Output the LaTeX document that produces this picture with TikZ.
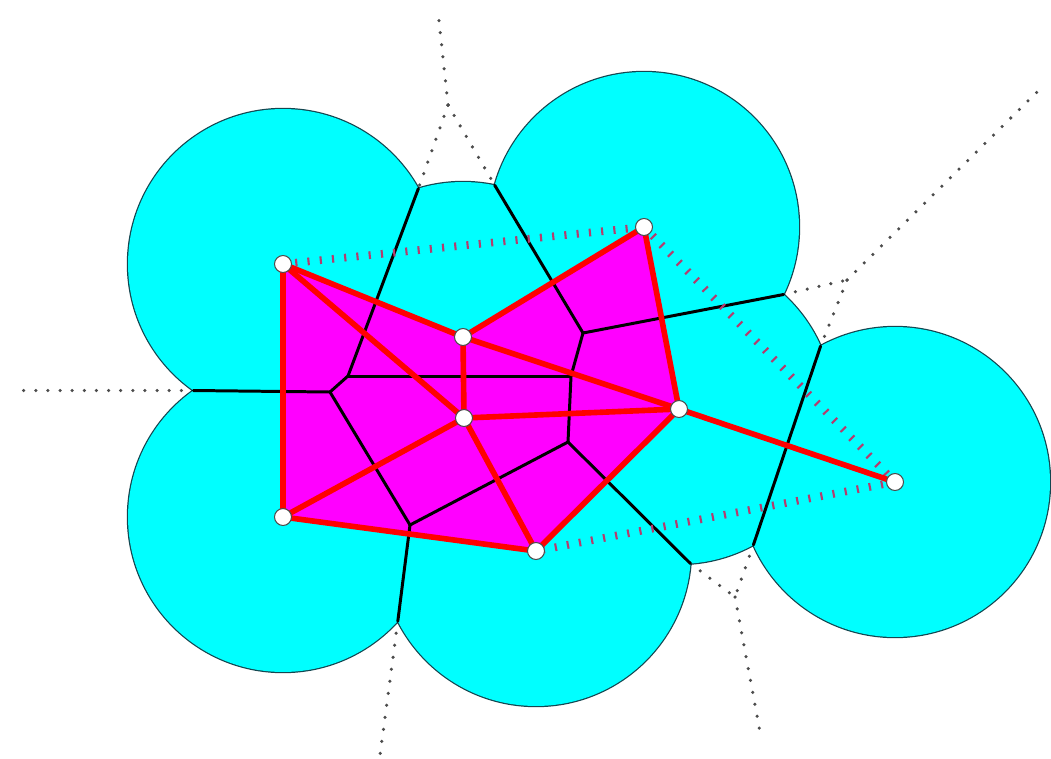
\documentclass[tikz,border=0pt]{standalone}
\definecolor{cyanfill}{RGB}{0,255,255}
\definecolor{magfill}{RGB}{255,0,255}
\definecolor{delcol}{RGB}{180,60,110}
\definecolor{rimcol}{RGB}{20,70,80}
\begin{document}
\begin{tikzpicture}[x=0.02cm,y=-0.02cm,
  voro/.style={line width=1.7pt, black, line cap=round},
  voroout/.style={line width=2pt, black!70, line cap=round, dash pattern=on 0pt off 6.9pt},
  alphaedge/.style={line width=3.2pt, red, line cap=round},
  delout/.style={line width=4.4pt, delcol, dash pattern=on 1.2pt off 5.8pt},
  site/.style={circle, draw=black!70, line width=0.6pt, fill=white, inner sep=0pt, minimum size=0.34cm},
  tri/.style={fill=magfill}]
\useasboundingbox (0,0) rectangle (1051,758);
% sites
\coordinate (A) at (283,264);
\coordinate (B) at (644,227);
\coordinate (C) at (463,337);
\coordinate (D) at (464,418);
\coordinate (E) at (679,409);
\coordinate (F) at (895,482);
\coordinate (G) at (283,517);
\coordinate (H) at (536,551);
% Voronoi vertices
\coordinate (vABC) at (448,105);
\coordinate (vACD) at (348,376);
\coordinate (vADG) at (330,392);
\coordinate (vGDH) at (410,525);
\coordinate (vDHE) at (568,442);
\coordinate (vDCE) at (571,376);
\coordinate (vCBE) at (583,333);
\coordinate (vBEF) at (847,280);
\coordinate (vEHF) at (735,597);
% cusps on the union boundary
\coordinate (cAC) at (418.4,188.5);
\coordinate (cBC) at (494.7,185.2);
\coordinate (cBE) at (783.5,294.5);
\coordinate (cEFa) at (820.6,346.1);
\coordinate (cEFb) at (753.4,544.9);
\coordinate (cHE) at (690.5,563.6);
\coordinate (cGH) at (397.8,621.2);
\coordinate (cAG) at (193.4,390.5);
% far ends of unbounded edges
\coordinate (iAB) at (438,12);
\coordinate (iBF) at (1037,92);
\coordinate (iFH) at (760,732);
\coordinate (iGH) at (380,755);
\coordinate (iAG) at (12,390.5);
% dotted Voronoi edges outside the union
\draw[voroout] (vABC) -- (iAB);
\draw[voroout] (vABC) -- (cAC);
\draw[voroout] (vABC) -- (cBC);
\draw[voroout] (cBE) -- (vBEF);
\draw[voroout] (vBEF) -- (iBF);
\draw[voroout] (vBEF) -- (cEFa);
\draw[voroout] (cEFb) -- (vEHF);
\draw[voroout] (cHE) -- (vEHF);
\draw[voroout] (vEHF) -- (iFH);
\draw[voroout] (cGH) -- (iGH);
\draw[voroout] (cAG) -- (iAG);
% union of balls
\path[draw=rimcol, line width=1.4pt] (A) circle[radius=3.1cm] (B) circle[radius=3.1cm] (C) circle[radius=3.1cm] (D) circle[radius=3.1cm] (E) circle[radius=3.1cm] (F) circle[radius=3.1cm] (G) circle[radius=3.1cm] (H) circle[radius=3.1cm];
\path[fill=cyanfill] (A) circle[radius=3.1cm] (B) circle[radius=3.1cm] (C) circle[radius=3.1cm] (D) circle[radius=3.1cm] (E) circle[radius=3.1cm] (F) circle[radius=3.1cm] (G) circle[radius=3.1cm] (H) circle[radius=3.1cm];
% alpha complex triangles
\fill[tri] (A) -- (C) -- (D) -- cycle;
\fill[tri] (A) -- (D) -- (G) -- cycle;
\fill[tri] (G) -- (D) -- (H) -- cycle;
\fill[tri] (D) -- (H) -- (E) -- cycle;
\fill[tri] (D) -- (C) -- (E) -- cycle;
\fill[tri] (C) -- (B) -- (E) -- cycle;
% Voronoi edges inside the union
\draw[voro] (cAG) -- (vADG);
\draw[voro] (cAC) -- (vACD);
\draw[voro] (vACD) -- (vADG);
\draw[voro] (vACD) -- (vDCE);
\draw[voro] (vADG) -- (vGDH);
\draw[voro] (vGDH) -- (cGH);
\draw[voro] (vGDH) -- (vDHE);
\draw[voro] (vDHE) -- (vDCE);
\draw[voro] (vDCE) -- (vCBE);
\draw[voro] (vCBE) -- (cBC);
\draw[voro] (vCBE) -- (cBE);
\draw[voro] (cEFa) -- (cEFb);
\draw[voro] (vDHE) -- (cHE);
% Delaunay edges not in the alpha complex
\draw[delout] (A) -- (B);
\draw[delout] (B) -- (F);
\draw[delout] (F) -- (H);
% alpha complex edges
\draw[alphaedge] (A) -- (C);
\draw[alphaedge] (A) -- (D);
\draw[alphaedge] (A) -- (G);
\draw[alphaedge] (C) -- (D);
\draw[alphaedge] (C) -- (B);
\draw[alphaedge] (C) -- (E);
\draw[alphaedge] (D) -- (G);
\draw[alphaedge] (D) -- (H);
\draw[alphaedge] (D) -- (E);
\draw[alphaedge] (G) -- (H);
\draw[alphaedge] (H) -- (E);
\draw[alphaedge] (B) -- (E);
\draw[alphaedge] (E) -- (F);
% sites
\node[site] (mA) at (A) {};
\node[site] (mB) at (B) {};
\node[site] (mC) at (C) {};
\node[site] (mD) at (D) {};
\node[site] (mE) at (E) {};
\node[site] (mF) at (F) {};
\node[site] (mG) at (G) {};
\node[site] (mH) at (H) {};
\end{tikzpicture}
\end{document}
